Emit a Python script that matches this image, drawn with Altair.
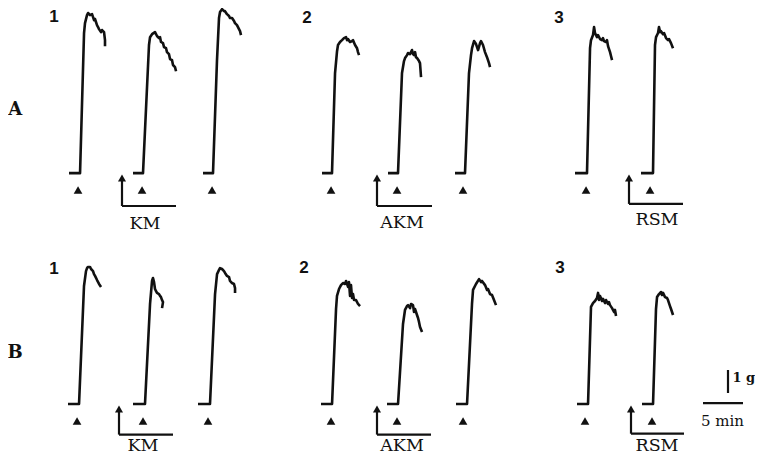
import altair as alt
import pandas as pd

# Units: time in minutes, tension in grams (calibrated from the "5 min" and "1 g" bars)
X_MAX = 93.375   # minutes spanned by the figure
Y_MAX = 19.478   # grams spanned by the figure

# ---------------- traces: time after start of record (min), tension above baseline (g)
t_A1a = [0, 1.38, 1.88, 2.0, 2.25, 2.38, 2.63, 2.88, 3.13, 3.25, 3.5, 3.63, 3.75, 4.0, 4.13, 4.38, 4.5, 4.5]
g_A1a = [0, 0, 6.09, 6.52, 6.87, 6.96, 6.87, 6.91, 6.65, 6.70, 6.43, 6.35, 6.26, 6.13, 6.22, 6.13, 5.78, 5.52]
t_A1b = [0, 1.25, 2.0, 2.13, 2.38, 2.75, 3.0, 3.25, 3.38, 3.5, 3.75, 3.88, 4.13, 4.25, 4.5, 4.63, 4.88, 5.0, 5.25, 5.38]
g_A1b = [0, 0, 5.57, 5.91, 6.04, 6.13, 5.96, 5.87, 5.91, 5.70, 5.65, 5.48, 5.43, 5.26, 5.17, 4.96, 4.91, 4.70, 4.61, 4.43]
t_A1c = [0, 1.25, 1.75, 2.0, 2.13, 2.38, 2.63, 2.75, 3.0, 3.25, 3.38, 3.63, 3.88, 4.0, 4.25, 4.5, 4.63, 4.75]
g_A1c = [0, 0, 4.91, 6.74, 7.0, 7.13, 7.04, 7.04, 6.91, 6.83, 6.74, 6.74, 6.61, 6.52, 6.43, 6.26, 6.17, 6.0]
t_A2a = [0, 1.25, 1.63, 1.88, 2.0, 2.25, 2.5, 2.75, 3.0, 3.13, 3.25, 3.5, 3.75, 3.88, 4.13, 4.38, 4.5, 4.63]
g_A2a = [0, 0, 4.35, 5.30, 5.57, 5.70, 5.78, 5.87, 5.91, 5.78, 5.83, 5.70, 5.74, 5.78, 5.57, 5.43, 5.26, 5.13]
t_A2b = [0, 1.25, 1.75, 2.0, 2.13, 2.38, 2.5, 2.75, 3.0, 3.13, 3.25, 3.38, 3.5, 3.63, 3.88, 4.0, 4.13]
g_A2b = [0, 0, 4.35, 4.87, 5.0, 5.13, 5.22, 5.17, 5.35, 5.17, 5.13, 5.26, 5.04, 5.0, 4.87, 4.78, 4.17]
t_A2c = [0, 1.25, 1.75, 2.0, 2.13, 2.38, 2.63, 2.88, 3.13, 3.25, 3.5, 3.75, 4.0, 4.25, 4.38]
g_A2c = [0, 0, 4.35, 5.13, 5.43, 5.74, 5.61, 5.35, 5.65, 5.74, 5.57, 5.26, 5.04, 4.78, 4.61]
t_A3a = [0, 1.5, 1.88, 2.0, 2.25, 2.38, 2.5, 2.75, 2.88, 3.13, 3.38, 3.5, 3.63, 3.88, 4.0, 4.13, 4.38, 4.5, 4.63]
g_A3a = [0, 0, 5.43, 5.78, 6.0, 6.35, 6.09, 5.91, 6.0, 5.83, 5.78, 5.87, 5.74, 5.70, 5.78, 5.52, 5.26, 5.09, 4.91]
t_A3b = [0, 1.5, 1.75, 1.88, 2.13, 2.25, 2.38, 2.5, 2.75, 2.88, 3.13, 3.38, 3.5, 3.75, 4.0]
g_A3b = [0, 0, 5.57, 5.91, 6.09, 6.35, 6.13, 6.17, 6.04, 6.09, 5.87, 5.78, 5.83, 5.65, 5.43]
t_B1a = [0, 1.38, 2.0, 2.25, 2.38, 2.5, 2.75, 2.88, 3.13, 3.25, 3.38, 3.63, 3.88, 4.13]
g_B1a = [0, 0, 5.13, 5.78, 5.91, 5.96, 5.96, 5.87, 5.78, 5.65, 5.57, 5.39, 5.22, 5.09]
t_B1b = [0, 1.5, 2.13, 2.38, 2.5, 2.63, 2.75, 2.88, 3.0, 3.25, 3.38, 3.5, 3.63, 3.75, 3.63]
g_B1b = [0, 0, 4.35, 5.35, 5.48, 5.30, 5.0, 4.91, 4.83, 4.78, 4.70, 4.65, 4.52, 4.43, 4.17]
t_B1c = [0, 1.5, 2.13, 2.38, 2.63, 2.75, 3.0, 3.25, 3.38, 3.63, 3.88, 4.0, 4.25, 4.5, 4.63, 4.63]
g_B1c = [0, 0, 4.78, 5.65, 5.83, 5.91, 5.87, 5.78, 5.70, 5.57, 5.52, 5.35, 5.26, 5.22, 5.04, 4.83]
t_B2a = [0, 1.38, 1.88, 2.0, 2.25, 2.5, 2.75, 3.0, 3.13, 3.38, 3.5, 3.63, 3.75, 3.88, 4.0, 4.13, 4.38, 4.63, 4.88]
g_B2a = [0, 0, 4.13, 4.70, 5.0, 5.17, 5.26, 5.22, 5.35, 5.09, 5.30, 4.70, 5.17, 4.61, 4.78, 4.52, 4.52, 4.35, 4.26]
t_B2b = [0, 1.38, 2.0, 2.25, 2.5, 2.63, 2.88, 3.0, 3.25, 3.38, 3.5, 3.75, 3.88, 4.0, 4.13, 4.38]
g_B2b = [0, 0, 3.48, 4.09, 4.26, 4.30, 4.17, 4.35, 4.30, 4.0, 4.13, 3.87, 3.74, 3.57, 3.35, 3.13]
t_B2c = [0, 1.38, 2.0, 2.13, 2.5, 2.88, 3.13, 3.25, 3.63, 3.88, 4.0, 4.25, 4.5, 4.75, 5.0]
g_B2c = [0, 0, 4.35, 4.96, 5.22, 5.43, 5.30, 5.35, 5.17, 4.96, 5.0, 4.78, 4.74, 4.52, 4.30]
t_B3a = [0, 1.38, 1.75, 2.0, 2.25, 2.5, 2.63, 2.75, 2.88, 3.13, 3.25, 3.5, 3.63, 3.88, 4.0, 4.13, 4.38, 4.63, 4.75, 4.88]
g_B3a = [0, 0, 4.22, 4.39, 4.48, 4.61, 4.83, 4.52, 4.70, 4.48, 4.57, 4.39, 4.52, 4.35, 4.43, 4.30, 4.17, 4.0, 4.09, 3.83]
t_B3b = [0, 1.38, 1.75, 1.88, 2.13, 2.38, 2.5, 2.63, 2.88, 3.13, 3.25, 3.5, 3.63, 3.88]
g_B3b = [0, 0, 4.13, 4.65, 4.78, 4.87, 4.74, 4.83, 4.65, 4.61, 4.52, 4.26, 4.13, 3.87]

trace_ids = ["A1a", "A1b", "A1c", "A2a", "A2b", "A2c", "A3a", "A3b",
             "B1a", "B1b", "B1c", "B2a", "B2b", "B2c", "B3a", "B3b"]
trace_t = [t_A1a, t_A1b, t_A1c, t_A2a, t_A2b, t_A2c, t_A3a, t_A3b,
           t_B1a, t_B1b, t_B1c, t_B2a, t_B2b, t_B2c, t_B3a, t_B3b]
trace_g = [g_A1a, g_A1b, g_A1c, g_A2a, g_A2b, g_A2c, g_A3a, g_A3b,
           g_B1a, g_B1b, g_B1c, g_B2a, g_B2b, g_B2c, g_B3a, g_B3b]
# record start of each trace on the figure's time axis (min)
trace_start = [7.625, 15.625, 24.375, 39.25, 47.5, 55.875, 70.875, 79.125,
               7.5, 15.625, 23.75, 39.125, 47.375, 56.0, 71.125, 79.25]
# stimulation (triangle) time after start of each record (min)
stim_t = [1.13, 1.13, 1.13, 1.13, 1.13, 1.0, 1.38, 1.13,
          1.13, 1.25, 1.25, 1.25, 1.25, 0.88, 1.0, 1.25]
row_base = {"A": 12.30, "B": 2.26}
stim_offset = -0.74

# ---------------- drug applications (arrow + bar)
drug_row = ["A", "A", "A", "B", "B", "B"]
drug_name = ["KM", "AKM", "RSM", "KM", "AKM", "RSM"]
drug_on = [14.25, 46.125, 77.625, 13.875, 46.125, 77.875]
drug_off = [21.0, 53.0, 84.375, 20.625, 52.875, 84.5]
drug_bar_y = [10.87, 10.87, 10.96, 0.93, 0.93, 0.97]
drug_tip_y = [12.09, 12.09, 12.09, 2.04, 2.04, 2.04]
drug_lab_x = [17.125, 49.25, 81.125, 16.875, 49.25, 81.125]
drug_lab_y = [10.07, 10.15, 10.28, 0.45, 0.45, 0.45]

# ---------------- panel labels
panel_text = ["A", "B"]
panel_x = [0.9, 0.9]
panel_y = [15.04, 4.48]
num_text = ["1", "2", "3", "1", "2", "3"]
num_x = [5.75, 37.375, 68.875, 5.75, 37.0, 69.0]
num_y = [19.09, 19.04, 19.04, 8.13, 8.17, 8.17]

# ---------------- calibration bars (1 g, 5 min)
cal_g_x = 90.0
cal_g_y = [2.74, 3.74]
cal_t_x = [86.875, 91.875]
cal_t_y = 2.30

rows = []
for tid, ts, gs, st in zip(trace_ids, trace_t, trace_g, trace_start):
    base = row_base[tid[0]]
    for i, (t, g) in enumerate(zip(ts, gs)):
        rows.append({"trace": tid, "i": i, "x": st + t, "y": base + g})
traces = pd.DataFrame(rows)

stims = pd.DataFrame({
    "x": [st + s for st, s in zip(trace_start, stim_t)],
    "y": [row_base[t[0]] + stim_offset for t in trace_ids],
})
drugs = pd.DataFrame({
    "row": drug_row, "name": drug_name, "on": drug_on, "off": drug_off,
    "bar": drug_bar_y, "tip": drug_tip_y, "lx": drug_lab_x, "ly": drug_lab_y,
})
panels = pd.DataFrame({"label": panel_text, "x": panel_x, "y": panel_y})
nums = pd.DataFrame({"label": num_text, "x": num_x, "y": num_y})
cal_v = pd.DataFrame({"x": [cal_g_x], "y": [cal_g_y[0]], "y2": [cal_g_y[1]]})
cal_h = pd.DataFrame({"x": [cal_t_x[0]], "x2": [cal_t_x[1]], "y": [cal_t_y]})
cal_txt = pd.DataFrame({
    "label": ["1 g", "5 min"],
    "x": [90.55, 89.3], "y": [3.37, 1.52],
})

xs = alt.Scale(domain=[0, X_MAX], nice=False, zero=False)
ys = alt.Scale(domain=[0, Y_MAX], nice=False, zero=False)


def X(f):
    return alt.X(f, type="quantitative", scale=xs, axis=None)


def Y(f):
    return alt.Y(f, type="quantitative", scale=ys, axis=None)


INK = "#111111"
SERIF = "DejaVu Serif"

lines = alt.Chart(traces).mark_line(color=INK, strokeWidth=2.6, strokeJoin="round").encode(
    x=X("x"), y=Y("y"), detail="trace:N", order="i:Q")

tri = alt.Chart(stims).mark_point(shape="triangle-up", filled=True, size=75,
                                  color=INK, opacity=1).encode(x=X("x"), y=Y("y"))

drug_v = alt.Chart(drugs).mark_rule(color=INK, strokeWidth=2.2).encode(
    x=X("on"), y=Y("tip"), y2="bar")
drug_h = alt.Chart(drugs).mark_rule(color=INK, strokeWidth=2.2).encode(
    x=X("on"), x2="off", y=Y("bar"))
drug_head = alt.Chart(drugs).mark_point(shape="triangle-up", filled=True, size=65,
                                        color=INK, opacity=1).encode(x=X("on"), y=Y("tip"))
drug_lab = alt.Chart(drugs).mark_text(font=SERIF, fontSize=17.5, color=INK,
                                      align="center", baseline="middle").encode(
    x=X("lx"), y=Y("ly"), text="name:N")

panel_lab = alt.Chart(panels).mark_text(font=SERIF, fontSize=18, fontWeight="bold", color=INK,
                                        align="center", baseline="middle").encode(
    x=X("x"), y=Y("y"), text="label:N")
num_lab = alt.Chart(nums).mark_text(font="Liberation Sans", fontSize=17, fontWeight="bold",
                                    color=INK, align="center", baseline="middle").encode(
    x=X("x"), y=Y("y"), text="label:N")

cal_v_m = alt.Chart(cal_v).mark_rule(color=INK, strokeWidth=2.2).encode(x=X("x"), y=Y("y"), y2="y2")
cal_h_m = alt.Chart(cal_h).mark_rule(color=INK, strokeWidth=2.2).encode(x=X("x"), x2="x2", y=Y("y"))
cal_t1 = alt.Chart(cal_txt.iloc[[0]]).mark_text(font=SERIF, fontSize=13, fontWeight="bold",
                                                 color=INK, align="left", baseline="middle").encode(
    x=X("x"), y=Y("y"), text="label:N")
cal_t2 = alt.Chart(cal_txt.iloc[[1]]).mark_text(font=SERIF, fontSize=15, color=INK,
                                                 align="center", baseline="middle").encode(
    x=X("x"), y=Y("y"), text="label:N")

chart = alt.layer(
    lines, tri, drug_v, drug_h, drug_head, drug_lab, panel_lab, num_lab,
    cal_v_m, cal_h_m, cal_t1, cal_t2,
).properties(
    width=747, height=448, autosize="none", padding=0,
).configure_view(stroke=None)

chart.save("out.html", embed_options={"renderer": "svg", "actions": False})
